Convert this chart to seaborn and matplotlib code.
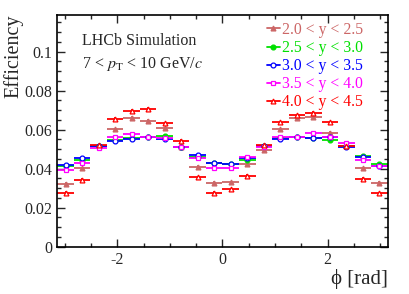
import numpy as np
import pandas as pd

import matplotlib.pyplot as plt
import matplotlib.ticker as mticker
from matplotlib.lines import Line2D
import seaborn as sns

# 20 bins in phi from -pi to pi
phi_edges = np.linspace(-np.pi, np.pi, 21)
phi_centres = 0.5 * (phi_edges[1:] + phi_edges[:-1])
half_width = 0.5 * (phi_edges[1] - phi_edges[0])

labels = ["2.0 < y < 2.5", "2.5 < y < 3.0", "3.0 < y < 3.5", "3.5 < y < 4.0", "4.0 < y < 4.5"]

eff_y20_25 = [0.0322, 0.0401, 0.0515, 0.0602, 0.0660, 0.0647, 0.0607, 0.0512, 0.0409, 0.0328,
              0.0330, 0.0422, 0.0494, 0.0602, 0.0660, 0.0667, 0.0585, 0.0516, 0.0402, 0.0327]
eff_y25_30 = [0.0414, 0.0444, 0.0515, 0.0548, 0.0556, 0.0565, 0.0566, 0.0513, 0.0458, 0.0430,
              0.0426, 0.0446, 0.0517, 0.0556, 0.0562, 0.0557, 0.0548, 0.0515, 0.0464, 0.0422]
eff_y30_35 = [0.0418, 0.0453, 0.0515, 0.0542, 0.0554, 0.0563, 0.0552, 0.0512, 0.0469, 0.0430,
              0.0425, 0.0457, 0.0518, 0.0553, 0.0562, 0.0555, 0.0561, 0.0510, 0.0458, 0.0413]
eff_y35_40 = [0.0391, 0.0427, 0.0506, 0.0561, 0.0578, 0.0564, 0.0556, 0.0511, 0.0454, 0.0402,
              0.0402, 0.0458, 0.0512, 0.0563, 0.0563, 0.0583, 0.0564, 0.0532, 0.0446, 0.0414]
eff_y40_45 = [0.0276, 0.0342, 0.0520, 0.0657, 0.0696, 0.0707, 0.0633, 0.0544, 0.0357, 0.0277,
              0.0295, 0.0365, 0.0521, 0.0639, 0.0675, 0.0688, 0.0639, 0.0518, 0.0349, 0.0274]
eff_err = 0.0008

all_eff = [eff_y20_25, eff_y25_30, eff_y30_35, eff_y35_40, eff_y40_45]
colors = ["#cc6666", "#00e000", "#0000ff", "#ff00ff", "#ff0000"]
markers = ["^", "o", "o", "s", "^"]
filled = [True, True, False, False, False]

df = pd.DataFrame({
    "phi": np.tile(phi_centres, len(labels)),
    "eff": np.concatenate(all_eff),
    "range": np.repeat(labels, len(phi_centres)),
})

sns.set_theme(style="ticks")
plt.rcParams["font.family"] = ["Liberation Serif", "DejaVu Serif"]
plt.rcParams["mathtext.fontset"] = "stix"
plt.rcParams["axes.unicode_minus"] = False

fig = plt.figure(figsize=(4.09, 2.94), dpi=100)
ax = fig.add_axes([0.140, 0.161, 0.808, 0.789])

handles = []
for lab, col, mk, fill in zip(labels, colors, markers, filled):
    sub = df[df["range"] == lab]
    ax.errorbar(sub["phi"], sub["eff"], xerr=half_width, yerr=eff_err,
                fmt=mk, color=col, ms=3.5, mew=0.9, elinewidth=1.3, capsize=0,
                mfc=col if fill else "white", mec=col)
    handles.append(Line2D([0], [0], color=col, marker=mk, ms=3.5, mew=0.9, lw=1.3,
                          mfc=col if fill else "white", mec=col))

ax.set_xlim(-np.pi, np.pi)
ax.set_ylim(0, 0.119)
ax.xaxis.set_major_locator(mticker.MultipleLocator(2))
ax.xaxis.set_minor_locator(mticker.MultipleLocator(0.5))
ax.yaxis.set_major_locator(mticker.MultipleLocator(0.02))
ax.yaxis.set_minor_locator(mticker.MultipleLocator(0.005))
ax.yaxis.set_major_formatter(mticker.FuncFormatter(lambda v, p: f"{v:g}"))
ax.tick_params(which="both", direction="in", top=True, right=True, labelsize=11.5, width=1)
ax.tick_params(which="major", length=6)
ax.tick_params(which="minor", length=3)
for sp in ax.spines.values():
    sp.set_linewidth(1.2)
    sp.set_color("black")

ax.set_ylabel("Efficiency", fontsize=14.5, loc="top", labelpad=1)
ax.set_xlabel("\u03d5 [rad]", fontsize=15, loc="right", labelpad=1)

ax.text(0.075, 0.868, "LHCb Simulation", transform=ax.transAxes, fontsize=11.5)
ax.text(0.075, 0.772, r"7 < $p_{\rm T}$ < 10 GeV/$c$", transform=ax.transAxes, fontsize=11.5)

leg = fig.legend(handles, labels, loc="upper right", bbox_to_anchor=(0.907, 0.952),
                 frameon=False, fontsize=11.3, handlelength=0.8, handletextpad=0.15,
                 labelspacing=0.13, borderpad=0)
for txt, col in zip(leg.get_texts(), colors):
    txt.set_color(col)

fig.savefig("out.png", dpi=100)
